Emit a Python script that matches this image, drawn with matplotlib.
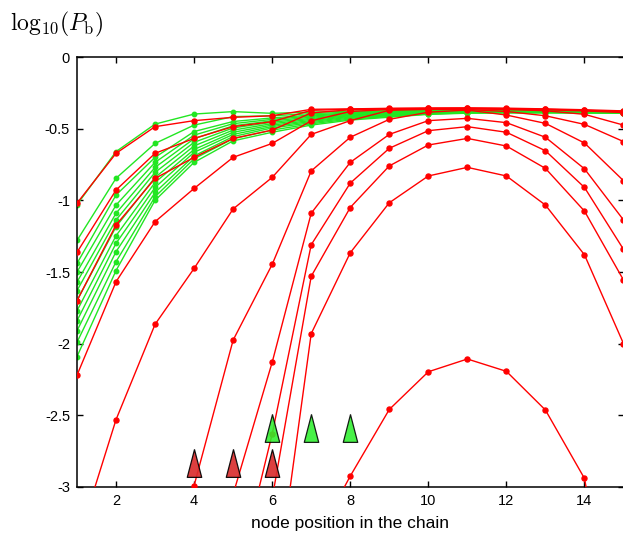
import numpy as np
import matplotlib
matplotlib.use("Agg")
from matplotlib import pyplot as plt

plt.rcParams['font.family'] = ['Liberation Sans', 'DejaVu Sans']
plt.rcParams['mathtext.fontset'] = 'cm'
plt.rcParams['axes.unicode_minus'] = False

nan = np.nan
nodes = list(range(1, 16))

# green family (converging curves)
green_01 = [-1.03, -0.66, -0.468, -0.398, -0.381, -0.393, -0.385, -0.378, -0.375, -0.373, -0.372, -0.373, -0.375, -0.377, -0.379]
green_02 = [-1.28, -0.846, -0.603, -0.475, -0.416, -0.41, -0.395, -0.385, -0.379, -0.376, -0.375, -0.376, -0.377, -0.379, -0.381]
green_03 = [-1.44, -0.963, -0.70, -0.52, -0.45, -0.425, -0.405, -0.39, -0.383, -0.379, -0.377, -0.378, -0.379, -0.381, -0.383]
green_04 = [-1.50, -1.033, -0.735, -0.545, -0.465, -0.435, -0.412, -0.395, -0.387, -0.381, -0.379, -0.379, -0.38, -0.382, -0.384]
green_05 = [-1.57, -1.09, -0.77, -0.57, -0.48, -0.445, -0.42, -0.40, -0.39, -0.384, -0.381, -0.381, -0.382, -0.383, -0.385]
green_06 = [-1.63, -1.137, -0.805, -0.595, -0.495, -0.455, -0.428, -0.405, -0.394, -0.386, -0.382, -0.382, -0.383, -0.384, -0.386]
green_07 = [-1.70, -1.184, -0.84, -0.62, -0.51, -0.465, -0.435, -0.41, -0.398, -0.389, -0.384, -0.383, -0.384, -0.385, -0.387]
green_08 = [-1.77, -1.247, -0.875, -0.645, -0.525, -0.475, -0.443, -0.415, -0.402, -0.391, -0.386, -0.385, -0.385, -0.386, -0.388]
green_09 = [-1.84, -1.30, -0.91, -0.665, -0.54, -0.485, -0.45, -0.42, -0.406, -0.394, -0.387, -0.386, -0.386, -0.387, -0.389]
green_10 = [-1.91, -1.358, -0.945, -0.69, -0.555, -0.495, -0.458, -0.426, -0.41, -0.396, -0.389, -0.387, -0.387, -0.388, -0.39]
green_11 = [-1.99, -1.428, -0.975, -0.71, -0.57, -0.51, -0.466, -0.433, -0.415, -0.398, -0.39, -0.388, -0.388, -0.389, -0.391]
green_12 = [-2.09, -1.49, -1.00, -0.735, -0.585, -0.525, -0.475, -0.44, -0.42, -0.40, -0.392, -0.39, -0.39, -0.391, -0.393]

# red family (one curve per source placement)
red_01 = [-1.02, -0.672, -0.486, -0.444, -0.421, -0.41, -0.365, -0.362, -0.358, -0.356, -0.355, -0.357, -0.362, -0.368, -0.376]
red_02 = [-1.363, -0.928, -0.672, -0.568, -0.486, -0.451, -0.372, -0.365, -0.36, -0.358, -0.357, -0.36, -0.365, -0.372, -0.382]
red_03 = [-1.70, -1.172, -0.847, -0.70, -0.568, -0.51, -0.39, -0.368, -0.362, -0.36, -0.36, -0.363, -0.368, -0.376, -0.388]
red_04 = [-2.22, -1.568, -1.149, -0.917, -0.70, -0.603, -0.445, -0.38, -0.366, -0.362, -0.362, -0.366, -0.375, -0.40, -0.475]
red_05 = [-3.4, -2.53, -1.865, -1.475, -1.06, -0.84, -0.54, -0.444, -0.372, -0.365, -0.366, -0.38, -0.41, -0.47, -0.59]
red_06 = [nan, nan, -4.3, -2.99, -1.975, -1.447, -0.795, -0.56, -0.435, -0.385, -0.37, -0.405, -0.463, -0.60, -0.863]
red_07 = [nan, nan, nan, -4.5, -3.05, -2.13, -1.09, -0.735, -0.54, -0.444, -0.428, -0.458, -0.56, -0.78, -1.137]
red_08 = [nan, nan, nan, nan, -3.75, -2.63, -1.31, -0.88, -0.637, -0.514, -0.486, -0.525, -0.654, -0.91, -1.342]
red_09 = [nan, nan, nan, nan, -4.6, -3.08, -1.53, -1.05, -0.76, -0.614, -0.568, -0.621, -0.777, -1.075, -1.556]
red_10 = [nan, nan, nan, nan, nan, -3.92, -1.93, -1.366, -1.017, -0.83, -0.77, -0.83, -1.033, -1.38, -2.0]
red_11 = [nan, nan, nan, nan, nan, nan, -3.43, -2.924, -2.459, -2.196, -2.107, -2.193, -2.463, -2.94, -4.4]

# source markers
red_src_x = [4, 5, 6]
red_src_y = [-2.835, -2.835, -2.83]
green_src_x = [6, 7, 8]
green_src_y = [-2.585, -2.585, -2.585]

xticks = [2, 4, 6, 8, 10, 12, 14]
yticks = [0, -0.5, -1, -1.5, -2, -2.5, -3]
ytick_labels = ['0', '-0.5', '-1', '-1.5', '-2', '-2.5', '-3']

greens = [green_01, green_02, green_03, green_04, green_05, green_06,
          green_07, green_08, green_09, green_10, green_11, green_12]
reds = [red_01, red_02, red_03, red_04, red_05, red_06,
        red_07, red_08, red_09, red_10, red_11]

fig = plt.figure(figsize=(6.23, 5.40), dpi=100)
ax = fig.add_axes([77 / 623, 53 / 540, 546.5 / 623, 430 / 540])

for ys in greens:
    ax.plot(nodes, ys, color='#22e622', lw=1.0, marker='o', ms=3.2,
            mec='#22e622', mfc='#22e622', zorder=2)
for ys in reds:
    ax.plot(nodes, ys, color='#ff0000', lw=1.0, marker='o', ms=3.6,
            mec='#ff0000', mfc='#ff0000', zorder=3)

# tall narrow triangles
tri = [(0, 1), (-0.52, -1), (0.52, -1), (0, 1)]
ax.plot(red_src_x, red_src_y, ls='none', marker=tri, ms=20,
        mfc='#d92e2e', mec='black', mew=0.9, alpha=0.92, zorder=4)
ax.plot(green_src_x, green_src_y, ls='none', marker=tri, ms=20,
        mfc='#2ef02e', mec='black', mew=0.9, alpha=0.88, zorder=4)

ax.set_xlim(1, 15)
ax.set_ylim(-3, 0)
ax.set_xticks(xticks)
ax.set_xticklabels([str(t) for t in xticks])
ax.set_yticks(yticks)
ax.set_yticklabels(ytick_labels)
ax.tick_params(direction='in', length=4.5, width=1.0, top=True, right=True,
               labelsize=10.5, pad=5)
for s in ax.spines.values():
    s.set_linewidth(1.1)

ax.set_xlabel('node position in the chain', fontsize=12.5, labelpad=6)
fig.text(0.016, 0.955, r'$\mathrm{log}_{10}(P_{\mathrm{b}})$', fontsize=17, va='center')

fig.savefig('out.png', dpi=100)
